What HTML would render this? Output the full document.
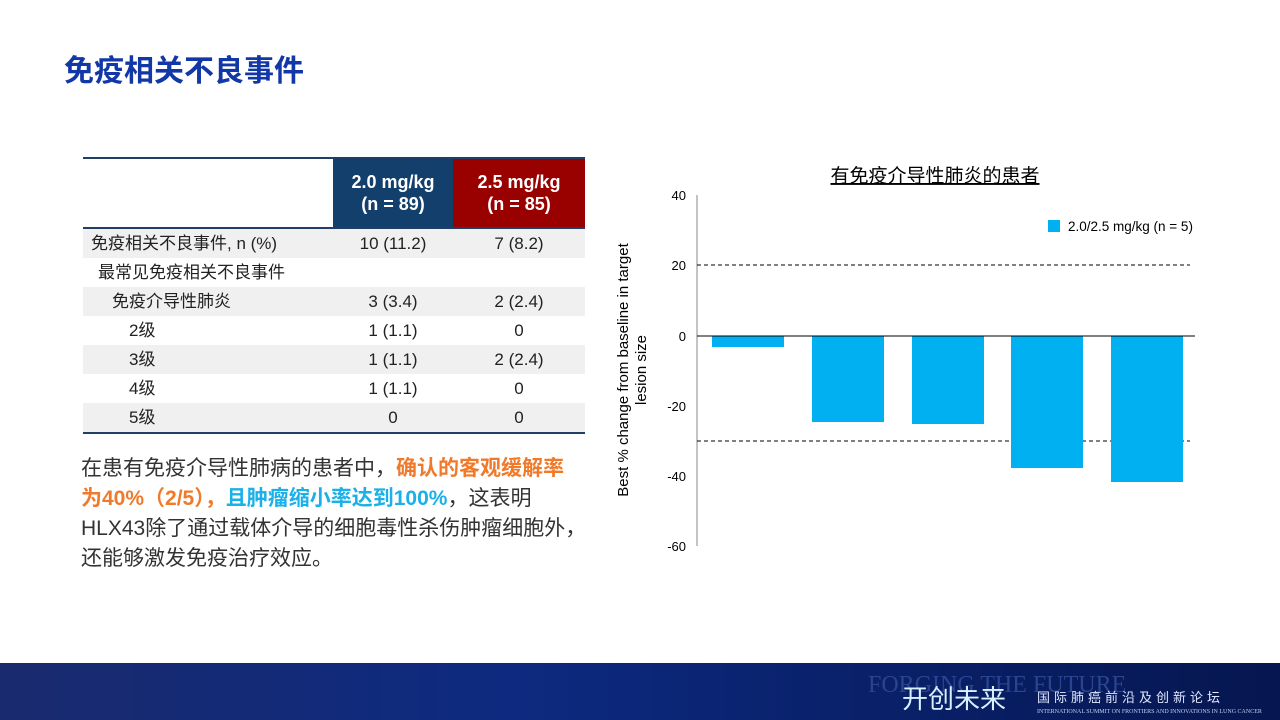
<!DOCTYPE html>
<html><head><meta charset="utf-8"><style>
body{margin:0;width:1280px;height:720px;position:relative;background:#fff;font-family:"Liberation Sans","Noto Sans CJK SC",sans-serif;overflow:hidden}
.abs{position:absolute}
table{border-collapse:collapse;position:absolute;left:83px;top:157px;width:502px;font-size:17px;color:#222;line-height:20px}
td{height:29px;padding:0;text-align:center;vertical-align:middle}
td.l{text-align:left}
tr.g td{background:#f0f0f0}
</style></head><body>
<div class="abs" style="left:64px;top:52px;font-size:30px;font-weight:bold;color:#1238a8;line-height:40px">免疫相关不良事件</div>
<table>
<tr style="border-top:2px solid #1f3f66;border-bottom:2px solid #1f3f66"><td style="width:250px;height:68px"></td><td style="width:120px;background:#123f6b;color:#fff;font-weight:bold;font-size:18px;line-height:22px">2.0 mg/kg<br>(n = 89)</td><td style="background:#990000;color:#fff;font-weight:bold;font-size:18px;line-height:22px">2.5 mg/kg<br>(n = 85)</td></tr>
<tr class="g"><td class="l" style="padding-left:8px">免疫相关不良事件, n (%)</td><td>10 (11.2)</td><td>7 (8.2)</td></tr>
<tr><td class="l" style="padding-left:15px">最常见免疫相关不良事件</td><td></td><td></td></tr>
<tr class="g"><td class="l" style="padding-left:29px">免疫介导性肺炎</td><td>3 (3.4)</td><td>2 (2.4)</td></tr>
<tr><td class="l" style="padding-left:46px">2级</td><td>1 (1.1)</td><td>0</td></tr>
<tr class="g"><td class="l" style="padding-left:46px">3级</td><td>1 (1.1)</td><td>2 (2.4)</td></tr>
<tr><td class="l" style="padding-left:46px">4级</td><td>1 (1.1)</td><td>0</td></tr>
<tr class="g" style="border-bottom:2px solid #1f3f66"><td class="l" style="padding-left:46px">5级</td><td>0</td><td>0</td></tr>
</table>
<div class="abs" style="left:81px;top:454px;width:540px;font-size:21px;line-height:30px;color:#333;white-space:nowrap">在患有免疫介导性肺病的患者中，<b style="color:#f07a2a">确认的客观缓解率</b><br><b style="color:#f07a2a">为40%（2/5），</b><b style="color:#1ab0e8">且肿瘤缩小率达到100%</b>，这表明<br>HLX43除了通过载体介导的细胞毒性杀伤肿瘤细胞外，<br>还能够激发免疫治疗效应。</div>
<svg class="abs" style="left:0;top:0" width="1280" height="720">
<text x="935" y="182" font-size="19" text-anchor="middle" fill="#000" text-decoration="underline" font-family="Liberation Sans,Noto Sans CJK SC,sans-serif">有免疫介导性肺炎的患者</text>
<line x1="697" y1="195" x2="697" y2="546" stroke="#888"/>
<g font-size="13" text-anchor="end" fill="#000">
<text x="686" y="200">40</text><text x="686" y="270">20</text><text x="686" y="341">0</text><text x="686" y="411">-20</text><text x="686" y="481">-40</text><text x="686" y="551">-60</text></g>
<line x1="697" y1="265" x2="1190" y2="265" stroke="#000" stroke-dasharray="4,3"/>
<line x1="697" y1="441" x2="1190" y2="441" stroke="#000" stroke-dasharray="4,3"/>
<g fill="#00b0f0">
<rect x="712" y="336" width="72" height="11"/><rect x="812" y="336" width="72" height="86"/><rect x="912" y="336" width="72" height="88"/><rect x="1011" y="336" width="72" height="132"/><rect x="1111" y="336" width="72" height="146"/>
<rect x="1048" y="220" width="12" height="12"/></g>
<line x1="697" y1="336" x2="1195" y2="336" stroke="#000"/>
<text x="1068" y="231" font-size="13.5">2.0/2.5 mg/kg (n = 5)</text>
<text transform="translate(628,370) rotate(-90)" font-size="15" text-anchor="middle">Best % change from baseline in target</text>
<text transform="translate(646,370) rotate(-90)" font-size="15" text-anchor="middle">lesion size</text>
<defs><linearGradient id="f" x1="0" x2="1"><stop offset="0" stop-color="#1a2a6e"/><stop offset="0.4" stop-color="#0d2a80"/><stop offset="1" stop-color="#061650"/></linearGradient></defs>
<rect x="0" y="663" width="1280" height="57" fill="url(#f)"/>
<text x="868" y="692" font-size="24" fill="#2a4590" font-family="Liberation Serif,serif">FORGING THE FUTURE</text>
<text x="902" y="708" font-size="26" fill="#d8f0ff" font-family="Liberation Sans,Noto Sans CJK SC,sans-serif">开创未来</text>
<text x="1037" y="702" font-size="13" fill="#e0e8ff" letter-spacing="4" font-family="Liberation Sans,Noto Sans CJK SC,sans-serif">国际肺癌前沿及创新论坛</text>
<text x="1037" y="713" font-size="6" fill="#c0d0f0" font-family="Liberation Serif,serif">INTERNATIONAL SUMMIT ON FRONTIERS AND INNOVATIONS IN LUNG CANCER</text>
</svg>
</body></html>
